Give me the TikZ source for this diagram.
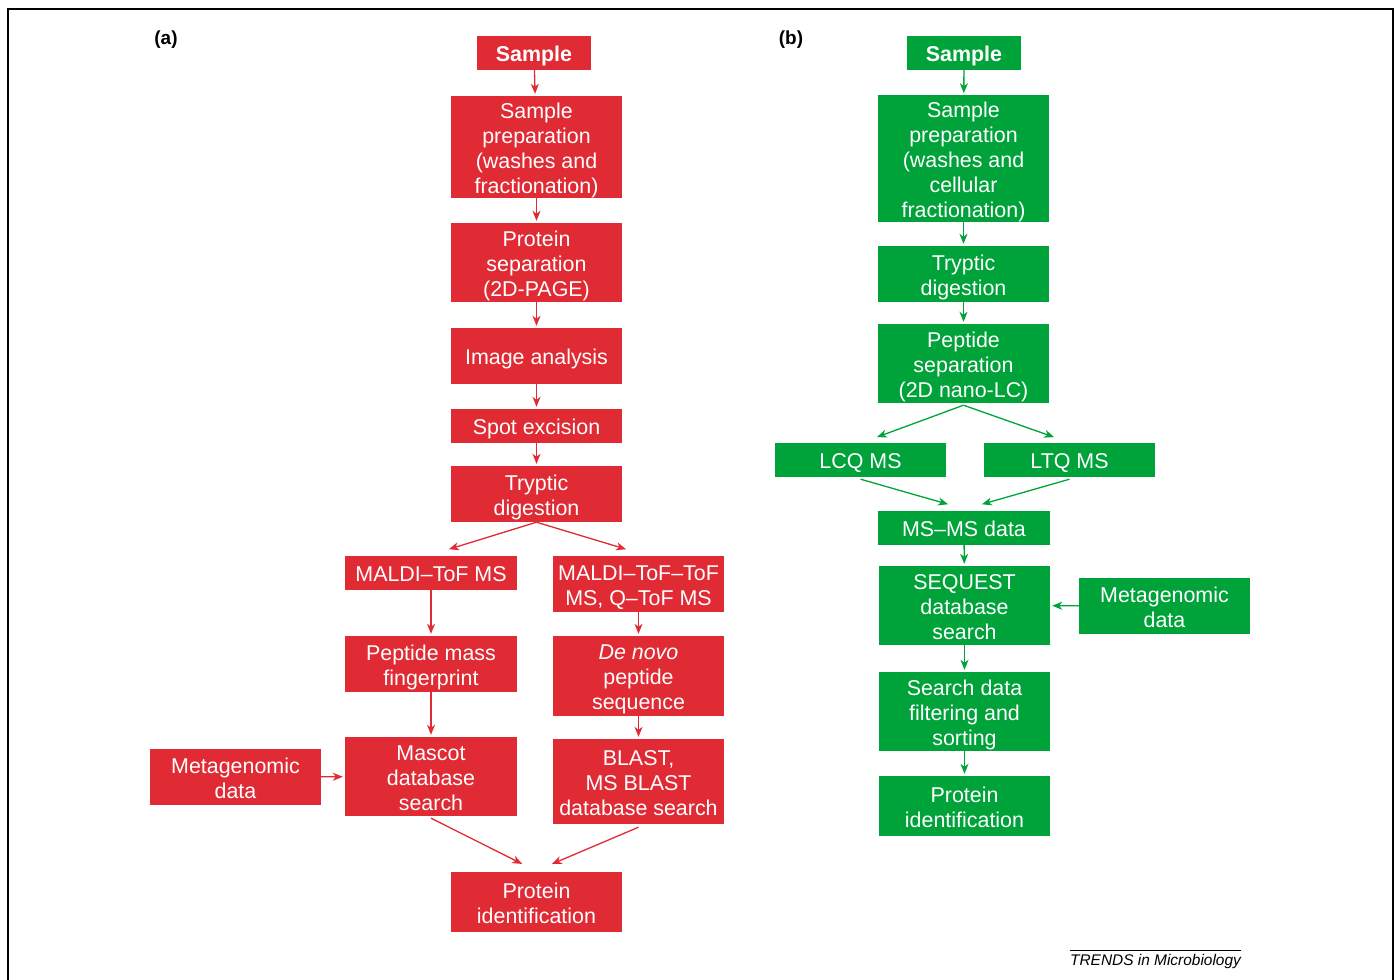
\documentclass[tikz,border=0pt]{standalone}
\usepackage{fontspec}
\setmainfont{Liberation Sans}
\usetikzlibrary{calc,arrows.meta}
\definecolor{boxred}{RGB}{224,42,52}
\definecolor{boxgreen}{RGB}{0,163,58}
\newcommand\tb[1]{\rule{0pt}{22bp}#1\rule[-4.6bp]{0pt}{4.6bp}}
\tikzset{
  box/.style={inner sep=0pt, align=center, text=white, font=\fontsize{21.5}{25}\selectfont},
  rbox/.style={box, fill=boxred},
  gbox/.style={box, fill=boxgreen},
  wh/.style 2 args={minimum width=#1bp, minimum height=#2bp},
  arr/.style={-{Stealth[length=10bp,width=8bp,inset=3bp]}, line width=1.3bp, shorten >=2bp},
  rarr/.style={arr, draw=boxred},
  garr/.style={arr, draw=boxgreen},
  panel/.style={font=\fontsize{19}{22}\selectfont\bfseries}
}
\begin{document}
\begin{tikzpicture}[x=1bp,y=-1bp]
\useasboundingbox (0,0) rectangle (1395,979);
\draw[line width=2bp] (8,985) -- (8,9) -- (1393,9) -- (1393,985);

\node[panel] (la) at (166,39.5) {(a)};
\node[panel] (lb) at (791,39.5) {(b)};

% (a) column
\node[rbox, wh={114}{34}] (sA) at (534,53) {\tb{\textbf{Sample}}};
\node[rbox, wh={171}{102}] (prepA) at (536.5,147) {\tb{Sample\\preparation\\(washes and\\fractionation)}};
\node[rbox, wh={171}{79}] (protA) at (536.5,262.5) {\tb{Protein\\separation\\(2D-PAGE)}};
\node[rbox, wh={171}{56}] (imgA) at (536.5,356) {\tb{Image analysis}};
\node[rbox, wh={171}{34}] (spotA) at (536.5,426) {\tb{Spot excision}};
\node[rbox, wh={171}{56}] (trypA) at (536.5,494) {\tb{Tryptic\\digestion}};
\node[rbox, wh={172}{34}] (maldiA) at (431,573) {\tb{MALDI--ToF MS}};
\node[rbox, wh={171}{56}] (maldi2A) at (638.5,584) {\tb{MALDI--ToF--ToF\\MS, Q--ToF MS}};
\node[rbox, wh={172}{56}] (pmfA) at (431,664) {\tb{Peptide mass\\fingerprint}};
\node[rbox, wh={171}{80}] (denovoA) at (638.5,676) {\tb{\textit{De novo}\\peptide\\sequence}};
\node[rbox, wh={171}{56}] (metaA) at (235.5,777) {\tb{Metagenomic\\data}};
\node[rbox, wh={172}{79}] (mascotA) at (431,776.5) {\tb{Mascot\\database\\search}};
\node[rbox, wh={171}{85}] (blastA) at (638.5,781.5) {\tb{BLAST,\\MS BLAST\\database search}};
\node[rbox, wh={171}{60}] (protidA) at (536.5,902) {\tb{Protein\\identification}};

\draw[rarr] (sA) -- (prepA);
\draw[rarr] (prepA) -- (protA);
\draw[rarr] (protA) -- (imgA);
\draw[rarr] (imgA) -- (spotA);
\draw[rarr] (spotA) -- (trypA);
\draw[rarr] (trypA.south) -- ($(maldiA.north)+(16,-6)$);
\draw[rarr] (trypA.south) -- ($(maldi2A.north)+(-10.5,-6)$);
\draw[rarr] (maldiA) -- (pmfA);
\draw[rarr] (pmfA) -- (mascotA);
\draw[rarr] (maldi2A) -- (denovoA);
\draw[rarr] (denovoA) -- (blastA);
\draw[rarr] (metaA) -- (mascotA);
\draw[rarr] ($(mascotA.south)+(0,2)$) -- ($(protidA.north)+(-12.5,-7)$);
\draw[rarr] ($(blastA.south)+(0,3)$) -- ($(protidA.north)+(13.5,-7)$);

% (b) column
\node[gbox, wh={114}{34}] (sB) at (964,53) {\tb{\textbf{Sample}}};
\node[gbox, wh={171}{125}] (prepB) at (963.5,158.5) {\tb{Sample\\preparation\\(washes and\\cellular\\fractionation)}};
\node[gbox, wh={171}{56}] (trypB) at (963.5,274) {\tb{Tryptic\\digestion}};
\node[gbox, wh={171}{79}] (pepB) at (963.5,363.5) {\tb{Peptide\\separation\\(2D nano-LC)}};
\node[gbox, wh={171}{34}] (lcqB) at (860.5,460) {\tb{LCQ MS}};
\node[gbox, wh={171}{34}] (ltqB) at (1069.5,460) {\tb{LTQ MS}};
\node[gbox, wh={172}{34}] (msmsB) at (964,528) {\tb{MS--MS data}};
\node[gbox, wh={171}{79}] (seqB) at (964.5,605.5) {\tb{SEQUEST\\database\\search}};
\node[gbox, wh={171}{56}] (metaB) at (1164.5,606) {\tb{Metagenomic\\data}};
\node[gbox, wh={171}{79}] (filtB) at (964.5,711.5) {\tb{Search data\\filtering and\\sorting}};
\node[gbox, wh={171}{60}] (protidB) at (964.5,806) {\tb{Protein\\identification}};

\draw[garr] (sB) -- (prepB);
\draw[garr] (prepB) -- (trypB);
\draw[garr] (trypB) -- (pepB);
\draw[garr] ($(pepB.south)+(0,2)$) -- ($(lcqB.north)+(14.5,-5)$);
\draw[garr] ($(pepB.south)+(0,2)$) -- ($(ltqB.north)+(-13.5,-5)$);
\draw[garr] ($(lcqB.south)+(0,2)$) -- ($(msmsB.north)+(-14,-6)$);
\draw[garr] ($(ltqB.south)+(0,2)$) -- ($(msmsB.north)+(16,-6)$);
\draw[garr] (msmsB) -- (seqB);
\draw[garr] (metaB) -- (seqB);
\draw[garr] (seqB) -- (filtB);
\draw[garr] (filtB) -- (protidB);

% credit
\node[font=\fontsize{15.5}{18}\selectfont\itshape, inner sep=0pt] (credit) at (1155.5,961) {TRENDS in Microbiology};
\draw[line width=0.8bp] ($(credit.north west)+(0,-3.5)$) -- ($(credit.north east)+(0,-3.5)$);
\end{tikzpicture}
\end{document}
